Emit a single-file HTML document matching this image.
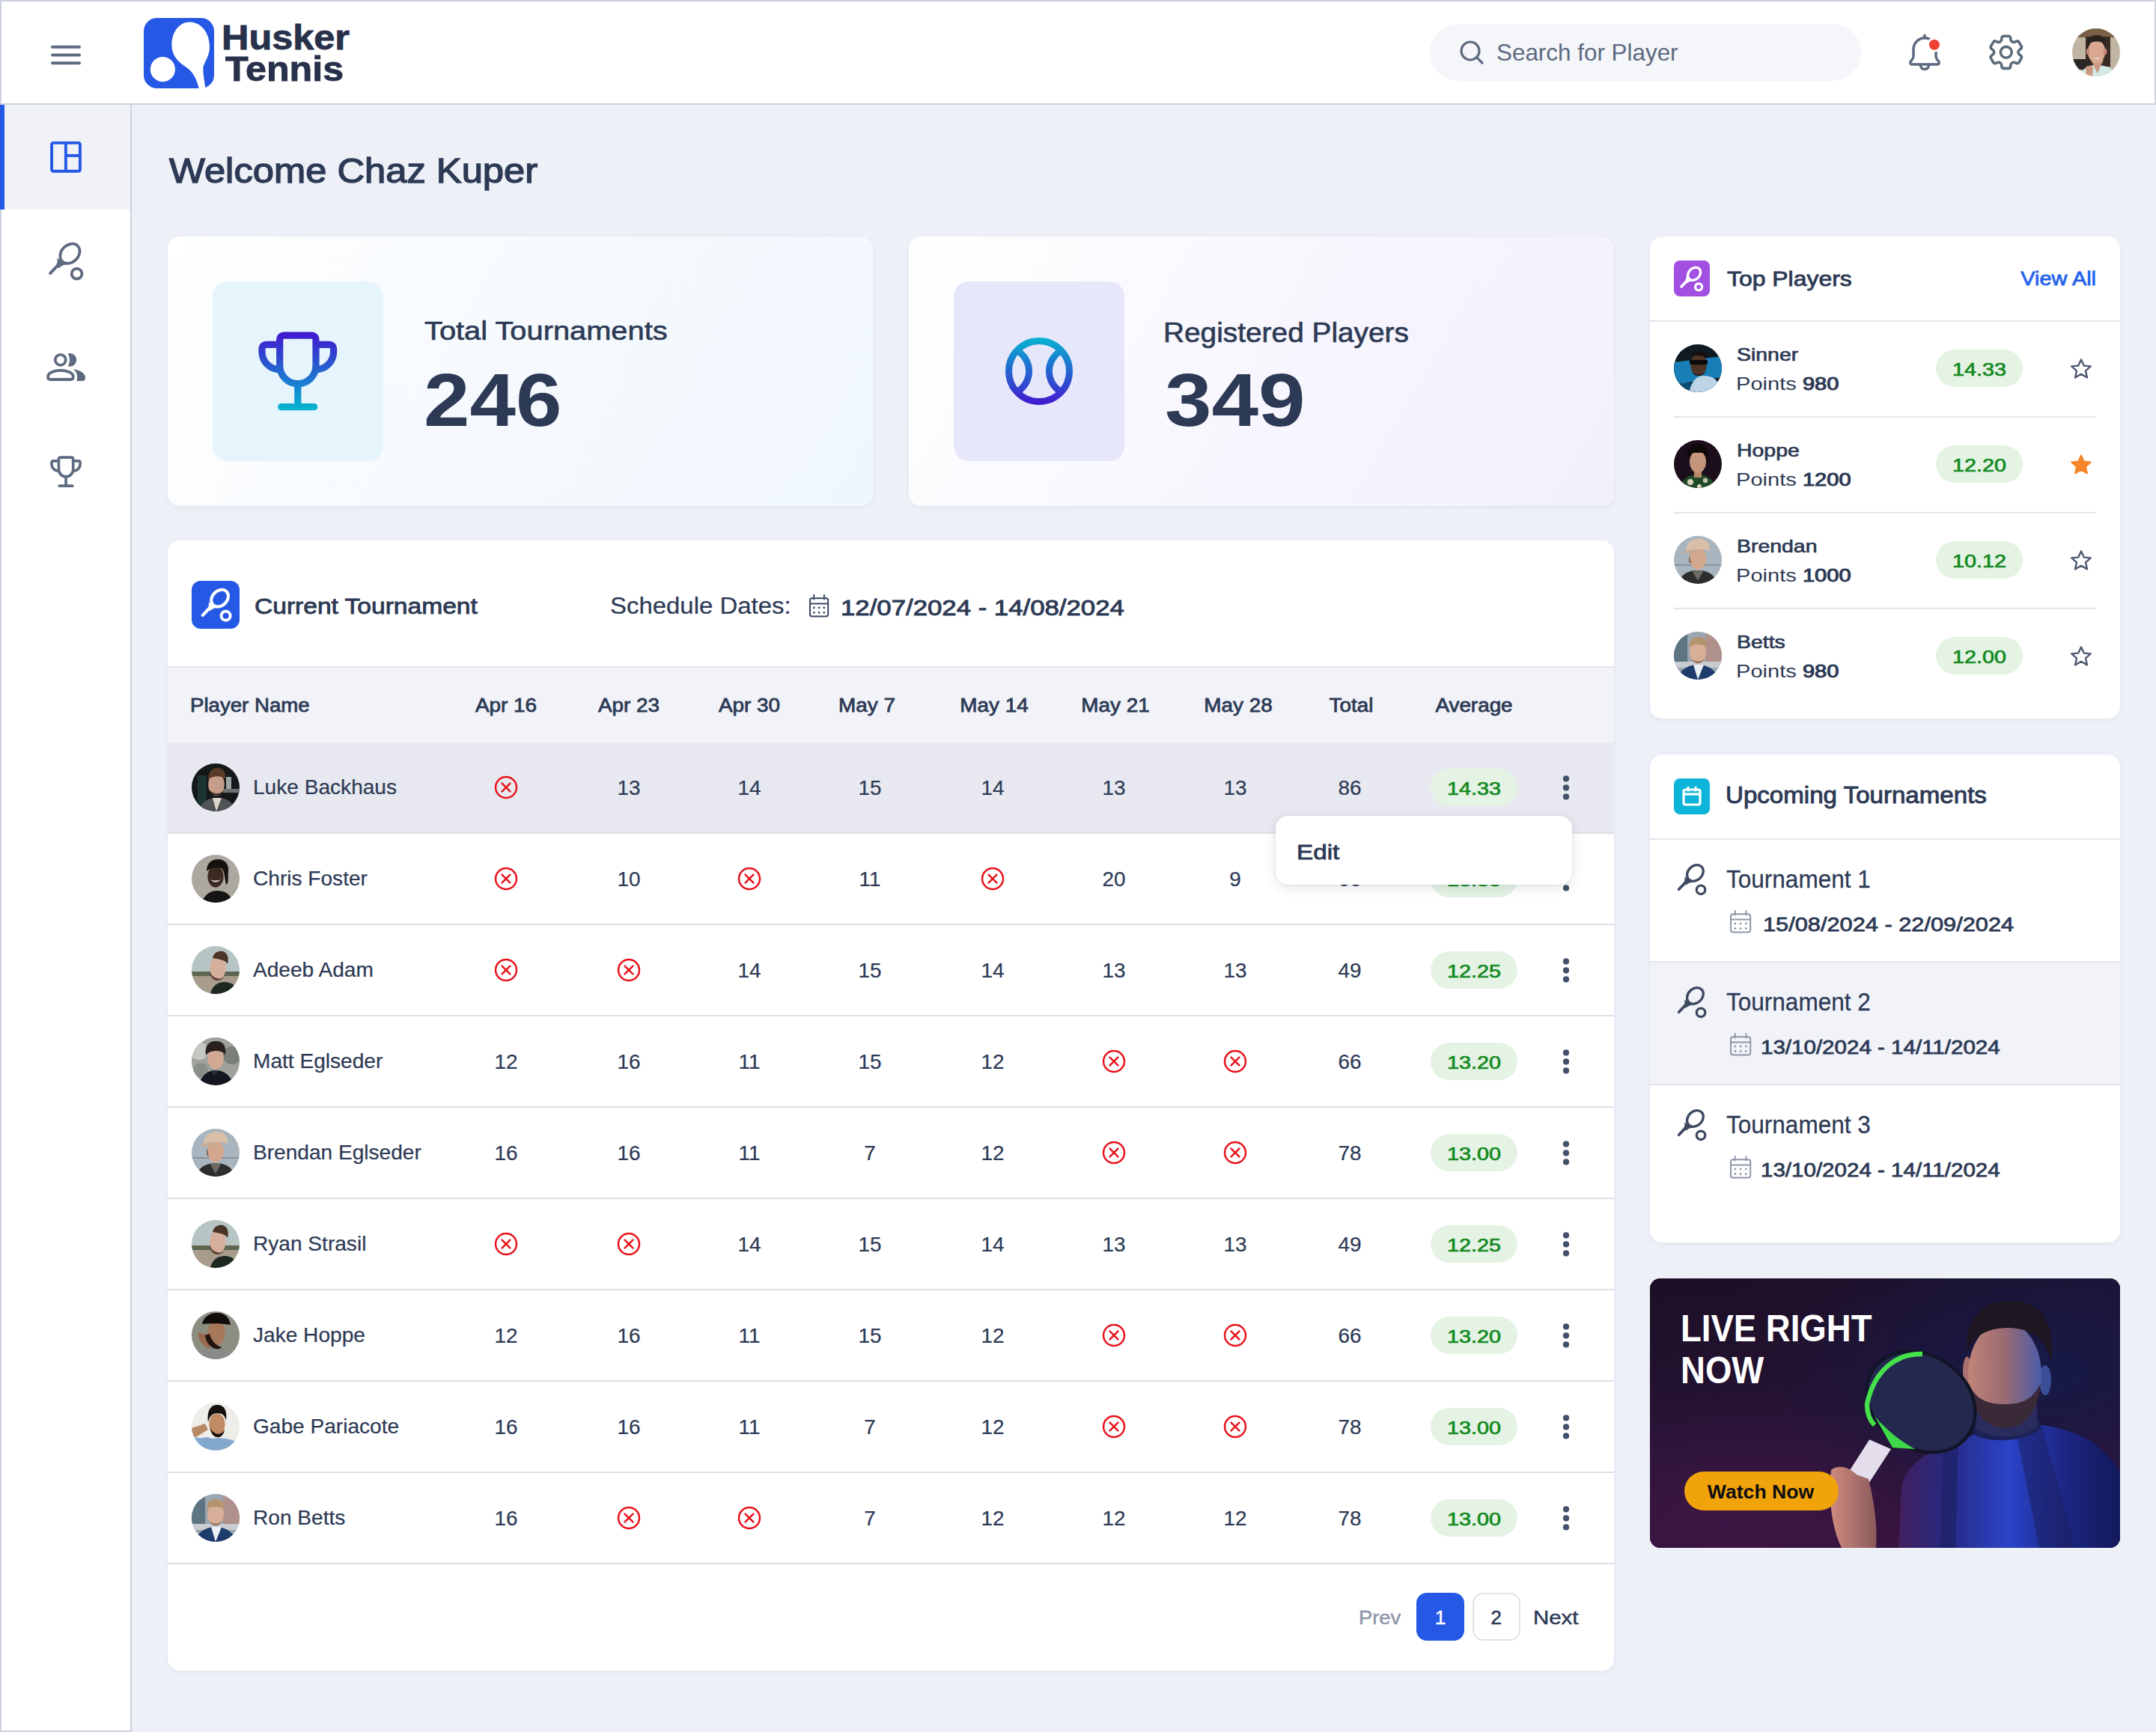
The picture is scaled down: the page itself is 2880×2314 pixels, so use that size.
<!DOCTYPE html><html><head><meta charset="utf-8"><style>
html,body{margin:0;padding:0;}
body{width:2880px;height:2314px;overflow:hidden;background:#EDF0F7;}
#app{zoom:2;position:relative;width:1440px;height:1157px;overflow:hidden;background:#EDF0F7;font-family:"Liberation Sans",sans-serif;}
.t{position:absolute;line-height:1;white-space:nowrap;}
svg{display:block;overflow:visible;}
</style></head><body><div id="app">
<div style="position:absolute;left:0px;top:0px;width:1440px;height:70px;box-sizing:border-box;background:#fff;border:1px solid #CAD1DF;"></div>
<div style="position:absolute;left:0px;top:70px;width:88px;height:1087px;box-sizing:border-box;background:#fff;border:1px solid #CAD1DF;border-top:none;"></div>
<div style="position:absolute;left:1px;top:70px;width:86px;height:70px;background:#F0F2F8;"></div>
<div style="position:absolute;left:0px;top:70px;width:3px;height:70px;background:#2558E5;"></div>
<svg style="position:absolute;left:33px;top:30px;" width="22" height="14" viewBox="0 0 22 14" fill="none"><g stroke="#5E6A80" stroke-width="2" stroke-linecap="round"><path d="M2,1.4H20"/><path d="M2,6.7H20"/><path d="M2,12.1H20"/></g></svg>
<svg style="position:absolute;left:96px;top:12px;" width="47" height="47" viewBox="0 0 47 47" fill="none"><rect width="47" height="47" rx="8.8" fill="#2558E5"/>
<path d="M30.5,2.7 C38.5,2.7 44,10 44,19.2 C44,25 41,28.5 39.8,32.5 C39.3,36 40.5,42 41.3,47 L36.8,47 C35.5,41 33,36 28.5,33 C22.5,29 18.7,25 18.7,18 C18.7,9 24,2.7 30.5,2.7 Z" fill="#fff"/>
<circle cx="12.7" cy="34.3" r="8.3" fill="#fff"/></svg>
<div class="t" style="left:148.12px;top:13.97px;font-size:22.831px;font-weight:700;color:#28314B;-webkit-text-stroke:0.43px #28314B;transform:scaleX(1.1041);transform-origin:0 0;">Husker</div>
<div class="t" style="left:150.68px;top:34.68px;font-size:23.354px;font-weight:700;color:#28314B;-webkit-text-stroke:0.44px #28314B;transform:scaleX(1.0761);transform-origin:0 0;">Tennis</div>
<div style="position:absolute;left:955px;top:16px;width:288px;height:38px;border-radius:19px;background:#F4F6FA;"></div>
<svg style="position:absolute;left:974px;top:26px;" width="18" height="18" viewBox="0 0 18 18" fill="none"><g stroke="#5E6A80" stroke-width="1.6" stroke-linecap="round"><circle cx="8" cy="8" r="6"/><path d="M12.4,12.4 L16,16"/></g></svg>
<div class="t" style="left:999.60px;top:27.65px;font-size:15.248px;font-weight:400;color:#5E6A80;transform:scaleX(1.0299);transform-origin:0 0;">Search for Player</div>
<svg style="position:absolute;left:1265px;top:15px;" width="40" height="40" viewBox="0 0 40 40" fill="none"><g transform="translate(-1265,-15)"><g stroke="#5E6A80" stroke-width="1.76" stroke-linecap="round" stroke-linejoin="round" fill="none">
<path d="M1277,42.97 H1294 C1295.2,42.97 1295.5,41.5 1294.6,40.6 L1294,40 C1293.3,39.3 1293,38.3 1293,37.3 V33 C1293,28.9 1289.6,25.4 1285.5,25.4 C1281.4,25.4 1278,28.9 1278,33 V37.3 C1278,38.3 1277.7,39.3 1277,40 L1276.4,40.6 C1275.5,41.5 1275.8,42.97 1277,42.97 Z"/>
<path d="M1282.6,43.6 C1283,45.4 1284.1,46.3 1285.5,46.3 C1286.9,46.3 1288,45.4 1288.4,43.6"/><path d="M1285.5,23.6 V25.4"/></g>
<circle cx="1291.96" cy="29.89" r="4.9" fill="#fff"/><circle cx="1291.96" cy="29.89" r="3.52" fill="#F04132"/></g></svg>
<svg style="position:absolute;left:1325.6px;top:20.53px;" width="28.8" height="28.8" viewBox="0 0 28.8 28.8" fill="none"><g transform="scale(1.2)" stroke="#5B6B78" stroke-width="1.5" fill="none" stroke-linejoin="round"><path d="M9.594 3.94c.09-.542.56-.94 1.11-.94h2.593c.55 0 1.02.398 1.11.94l.213 1.281c.063.374.313.686.645.87.074.04.147.083.22.127.325.196.72.257 1.075.124l1.217-.456a1.125 1.125 0 0 1 1.37.49l1.296 2.247a1.125 1.125 0 0 1-.26 1.431l-1.003.827c-.293.241-.438.613-.43.992a7.723 7.723 0 0 1 0 .255c-.008.378.137.75.43.991l1.004.827c.424.35.534.955.26 1.43l-1.298 2.247a1.125 1.125 0 0 1-1.369.491l-1.217-.456c-.355-.133-.75-.072-1.076.124a6.470 6.470 0 0 1-.22.128c-.331.183-.581.495-.644.869l-.213 1.281c-.09.543-.56.94-1.110.94h-2.594c-.55 0-1.019-.398-1.11-.94l-.213-1.281c-.062-.374-.312-.686-.644-.87a6.520 6.520 0 0 1-.22-.127c-.325-.196-.72-.257-1.076-.124l-1.217.456a1.125 1.125 0 0 1-1.369-.49l-1.297-2.247a1.125 1.125 0 0 1 .26-1.431l1.004-.827c.292-.24.437-.613.43-.991a6.932 6.932 0 0 1 0-.255c.007-.38-.138-.751-.43-.992l-1.004-.827a1.125 1.125 0 0 1-.26-1.430l1.297-2.247a1.125 1.125 0 0 1 1.37-.491l1.216.456c.356.133.751.072 1.076-.124.072-.044.146-.086.22-.128.332-.183.582-.495.644-.869l.214-1.280Z"/><circle cx="12" cy="12" r="3.1"/></g></svg>
<svg style="position:absolute;left:1384px;top:19px;" width="32" height="32" viewBox="0 0 32 32" fill="none"><defs><clipPath id="av1"><circle cx="16" cy="16" r="16"/></clipPath></defs><g clip-path="url(#av1)"><rect width="32" height="32" fill="#BFB5A2"/><rect x="0" y="0" width="32" height="6" fill="#7A6048"/><rect x="9" y="5.5" width="16.5" height="20" fill="#3A2A22"/><path d="M0,20.5 L12.5,20.5 L12.5,27.5 L0,27.5Z" fill="#2A2624"/><path d="M4,34 C6,27 10,24.5 16,24.5 C22,24.5 27,26 31,32 L31,34Z" fill="#D4E8E6"/><path d="M12.5,21 L16.8,30 L21,21Z" fill="#C89A84"/><ellipse cx="16.3" cy="15.5" rx="5.8" ry="7.8" fill="#D8A890"/><ellipse cx="10.6" cy="15.5" rx="1.2" ry="2" fill="#C88A78"/><ellipse cx="22" cy="15.5" rx="1.2" ry="2" fill="#C88A78"/><path d="M10,13 C9.5,6 13,4.5 16.5,4.5 C20.5,4.5 23,6.5 22.5,13 C21.5,9.5 19,8.8 16.3,8.8 C13.5,8.8 11,9.5 10,13Z" fill="#2A2420"/><path d="M13.5,19.5 Q16.3,21.5 19,19.5 Q16.3,20.3 13.5,19.5Z" fill="#F0ECE6"/><path d="M9,26 C10,24.5 13,24.5 14,26.5 L13.5,32 L9.5,32Z" fill="#C8987E"/></g></svg>
<svg style="position:absolute;left:32px;top:93px;" width="24" height="24" viewBox="0 0 24 24" fill="none"><g stroke="#2558E5" stroke-width="1.96" fill="none"><rect x="2.53" y="2.45" width="18.94" height="18.94" rx="1.1"/><path d="M11.94,2.45 V21.39"/><path d="M11.94,10.94 H21.47"/></g></svg>
<svg style="position:absolute;left:32.150000000000006px;top:159.54px;" width="25.0" height="29.0" viewBox="0 0 25.0 29.0" fill="none"><g stroke="#5E6A80" fill="none" stroke-linecap="round" transform="scale(1.0)"><ellipse cx="14.7" cy="9.9" rx="7.3" ry="5.7" transform="rotate(-45 14.7 9.9)" stroke-width="1.85"/><path d="M6.9,17.4 L1.55,23.05" stroke-width="2.0"/><circle cx="19.3" cy="23.4" r="3.45" stroke-width="1.9"/><path d="M6.1,12.9 C6.5,15.3 6.3,16.9 4.9,18.5 L7.4,19.6 C9.2,17.9 10.8,17.4 12.9,17.3 Z" fill="#5E6A80" stroke="none"/></g></svg>
<svg style="position:absolute;left:30px;top:234px;" width="28" height="22" viewBox="0 0 28 22" fill="none"><g transform="translate(-30,-234)"><circle cx="40.4" cy="240.4" r="3.52" fill="none" stroke="#5E6A80" stroke-width="1.85"/>
<path d="M45.44,235.97 H46.85 A4.45,4.45 0 0 1 46.85,244.86 H45.44 Q47.6,240.4 45.44,235.97 Z" fill="#5E6A80"/>
<path d="M33.6,253.5 H47.3 Q48.85,253.5 48.85,252 V251.5 C48.85,249 44.5,247.45 40.45,247.45 C36.4,247.45 32.05,249 32.05,251.5 V252 Q32.05,253.5 33.6,253.5 Z" fill="none" stroke="#5E6A80" stroke-width="1.9"/>
<path d="M48.9,246.6 C53.5,247.2 57,249.3 57,252.2 Q57,254.45 54.8,254.45 H51.3 C52,251.2 51.5,248.5 48.9,246.6 Z" fill="#5E6A80"/></g></svg>
<svg style="position:absolute;left:32.47px;top:303.38px;" width="24" height="24" viewBox="0 0 24 24" fill="none"><g transform="scale(0.399)" stroke="#5E6A80" stroke-width="4.6" fill="none" stroke-linejoin="round"><path d="M16.85,25.6 V8.3 Q16.85,5.1 20,5.1 H37.8 Q41,5.1 41,8.3 V25.6 A12.08,12.08 0 0 1 16.85,25.6 Z"/>
<path d="M16.85,11.2 H8.2 Q5,11.2 5,14.4 V16 A11.85,11.9 0 0 0 16.85,27.9"/>
<path d="M41,11.2 H49.6 Q52.8,11.2 52.8,14.4 V16 A11.85,11.9 0 0 1 41,27.9"/>
<path d="M28.9,37.6 V52.85"/><path d="M17.85,52.85 H39.85" stroke-linecap="round"/></g></svg>
<div class="t" style="left:112.94px;top:103.09px;font-size:22.981px;font-weight:400;color:#2D3A55;-webkit-text-stroke:0.69px #2D3A55;transform:scaleX(1.1031);transform-origin:0 0;">Welcome Chaz Kuper</div>
<div style="position:absolute;left:112px;top:158px;width:471px;height:180px;border-radius:8px;background:linear-gradient(120deg,#FFFFFF 0%,#F6FAFE 45%,#EFF6FD 100%);box-shadow:0 1px 3px rgba(40,50,90,0.06);"></div>
<div style="position:absolute;left:607px;top:158px;width:471px;height:180px;border-radius:8px;background:linear-gradient(120deg,#FFFFFF 0%,#F8F7FE 45%,#F2F0FD 100%);box-shadow:0 1px 3px rgba(40,50,90,0.06);"></div>
<div style="position:absolute;left:142px;top:188px;width:114px;height:120px;border-radius:10px;background:#E6F4FC;"></div>
<div style="position:absolute;left:637px;top:188px;width:114px;height:120px;border-radius:10px;background:#E7E7FB;"></div>
<svg style="position:absolute;left:170px;top:219px;" width="58" height="58" viewBox="0 0 58 58" fill="none"><defs><linearGradient id="gt" x1="0" y1="3" x2="0" y2="55" gradientUnits="userSpaceOnUse"><stop offset="0" stop-color="#4316D0"/><stop offset="1" stop-color="#05B5D0"/></linearGradient></defs>
<g stroke="url(#gt)" stroke-width="4.6" fill="none" stroke-linejoin="round"><path d="M16.85,25.6 V8.3 Q16.85,5.1 20,5.1 H37.8 Q41,5.1 41,8.3 V25.6 A12.08,12.08 0 0 1 16.85,25.6 Z"/>
<path d="M16.85,11.2 H8.2 Q5,11.2 5,14.4 V16 A11.85,11.9 0 0 0 16.85,27.9"/>
<path d="M41,11.2 H49.6 Q52.8,11.2 52.8,14.4 V16 A11.85,11.9 0 0 1 41,27.9"/>
<path d="M28.9,37.6 V52.85"/><path d="M17.85,52.85 H39.85" stroke-linecap="round"/></g></svg>
<svg style="position:absolute;left:668.9px;top:222.9px;" width="50" height="50" viewBox="0 0 50 50" fill="none"><defs><linearGradient id="gb" x1="0" y1="-23" x2="0" y2="23" gradientUnits="userSpaceOnUse"><stop offset="0" stop-color="#05B5D0"/><stop offset="1" stop-color="#4316D0"/></linearGradient></defs>
<g transform="translate(25,25)" stroke="url(#gb)" stroke-width="4.5" fill="none">
<circle r="20.25"/><path d="M-14.81,-13.8 A15.8,15.8 0 0 1 -14.81,13.8"/><path d="M14.81,-13.8 A15.8,15.8 0 0 0 14.81,13.8"/></g></svg>
<div class="t" style="left:283.44px;top:212.71px;font-size:17.767px;font-weight:400;color:#2D3A55;-webkit-text-stroke:0.32px #2D3A55;transform:scaleX(1.1211);transform-origin:0 0;">Total Tournaments</div>
<div class="t" style="left:282.88px;top:242.48px;font-size:49.865px;font-weight:700;color:#2D3A55;transform:scaleX(1.108);transform-origin:0 0;">246</div>
<div class="t" style="left:776.86px;top:212.81px;font-size:18.525px;font-weight:400;color:#2D3A55;-webkit-text-stroke:0.33px #2D3A55;transform:scaleX(1.0478);transform-origin:0 0;">Registered Players</div>
<div class="t" style="left:777.98px;top:242.48px;font-size:49.865px;font-weight:700;color:#2D3A55;transform:scaleX(1.128);transform-origin:0 0;">349</div>
<div style="position:absolute;left:112px;top:361px;width:966px;height:755px;border-radius:8px;background:#fff;box-shadow:0 1px 3px rgba(40,50,90,0.06);overflow:hidden;"></div>
<div style="position:absolute;left:128px;top:388px;width:32px;height:32px;border-radius:6px;background:#2558E5;"></div>
<svg style="position:absolute;left:133.82150000000001px;top:390.7598px;" width="21.75" height="25.23" viewBox="0 0 21.75 25.23" fill="none"><g stroke="#fff" fill="none" stroke-linecap="round" transform="scale(0.87)"><ellipse cx="14.7" cy="9.9" rx="7.3" ry="5.7" transform="rotate(-45 14.7 9.9)" stroke-width="2.3"/><path d="M6.9,17.4 L1.55,23.05" stroke-width="2.4"/><circle cx="19.3" cy="23.4" r="3.45" stroke-width="2.3"/><path d="M6.1,12.9 C6.5,15.3 6.3,16.9 4.9,18.5 L7.4,19.6 C9.2,17.9 10.8,17.4 12.9,17.3 Z" fill="#fff" stroke="none"/></g></svg>
<div class="t" style="left:169.92px;top:397.73px;font-size:14.784px;font-weight:400;color:#2D3A55;-webkit-text-stroke:0.44px #2D3A55;transform:scaleX(1.1356);transform-origin:0 0;">Current Tournament</div>
<div class="t" style="left:407.50px;top:397.48px;font-size:15.434px;font-weight:400;color:#2D3A55;-webkit-text-stroke:0.12px #2D3A55;transform:scaleX(1.0667);transform-origin:0 0;">Schedule Dates:</div>
<svg style="position:absolute;left:540.4px;top:397.1px;" width="13.1" height="15.3" viewBox="0 0 13.1 15.3" fill="none"><g stroke="#3A4762" stroke-width="1.0" fill="none" stroke-linecap="round"><rect x="0.5" y="2.6" width="12.1" height="12.200000000000001" rx="1.4"/><path d="M0.5,6.2 H12.6"/><path d="M3.14,0.5 V3.2"/><path d="M9.96,0.5 V3.2"/></g><g fill="#3A4762"><circle cx="3.21" cy="8.97" r=".7"/><circle cx="3.21" cy="12.2" r=".7"/><circle cx="6.55" cy="8.97" r=".7"/><circle cx="6.55" cy="12.2" r=".7"/><circle cx="9.89" cy="8.97" r=".7"/><circle cx="9.89" cy="12.2" r=".7"/></g></svg>
<div class="t" style="left:561.38px;top:397.93px;font-size:15.196px;font-weight:400;color:#2D3A55;-webkit-text-stroke:0.46px #2D3A55;transform:scaleX(1.1444);transform-origin:0 0;">12/07/2024 - 14/08/2024</div>
<div style="position:absolute;left:112px;top:445px;width:966px;height:1px;background:#E2E5EC;"></div>
<div style="position:absolute;left:112px;top:446px;width:966px;height:50px;background:#F1F3F9;"></div>
<div class="t" style="left:126.90px;top:465.14px;font-size:12.527px;font-weight:400;color:#2D3A55;-webkit-text-stroke:0.38px #2D3A55;transform:scaleX(1.1031);transform-origin:0 0;">Player Name</div>
<div class="t" style="left:188.00px;width:300px;text-align:center;top:465.14px;font-size:12.527px;font-weight:400;color:#2D3A55;-webkit-text-stroke:0.38px #2D3A55;transform:scaleX(1.1119);transform-origin:50% 0;">Apr 16</div>
<div class="t" style="left:270.00px;width:300px;text-align:center;top:465.14px;font-size:12.527px;font-weight:400;color:#2D3A55;-webkit-text-stroke:0.38px #2D3A55;transform:scaleX(1.1119);transform-origin:50% 0;">Apr 23</div>
<div class="t" style="left:350.40px;width:300px;text-align:center;top:465.14px;font-size:12.527px;font-weight:400;color:#2D3A55;-webkit-text-stroke:0.38px #2D3A55;transform:scaleX(1.1119);transform-origin:50% 0;">Apr 30</div>
<div class="t" style="left:429.00px;width:300px;text-align:center;top:465.14px;font-size:12.527px;font-weight:400;color:#2D3A55;-webkit-text-stroke:0.38px #2D3A55;transform:scaleX(1.1119);transform-origin:50% 0;">May 7</div>
<div class="t" style="left:514.00px;width:300px;text-align:center;top:465.14px;font-size:12.527px;font-weight:400;color:#2D3A55;-webkit-text-stroke:0.38px #2D3A55;transform:scaleX(1.1119);transform-origin:50% 0;">May 14</div>
<div class="t" style="left:595.00px;width:300px;text-align:center;top:465.14px;font-size:12.527px;font-weight:400;color:#2D3A55;-webkit-text-stroke:0.38px #2D3A55;transform:scaleX(1.1119);transform-origin:50% 0;">May 21</div>
<div class="t" style="left:677.00px;width:300px;text-align:center;top:465.14px;font-size:12.527px;font-weight:400;color:#2D3A55;-webkit-text-stroke:0.38px #2D3A55;transform:scaleX(1.1119);transform-origin:50% 0;">May 28</div>
<div class="t" style="left:752.50px;width:300px;text-align:center;top:465.14px;font-size:12.527px;font-weight:400;color:#2D3A55;-webkit-text-stroke:0.38px #2D3A55;transform:scaleX(1.1119);transform-origin:50% 0;">Total</div>
<div class="t" style="left:834.50px;width:300px;text-align:center;top:465.14px;font-size:12.527px;font-weight:400;color:#2D3A55;-webkit-text-stroke:0.38px #2D3A55;transform:scaleX(1.1119);transform-origin:50% 0;">Average</div>
<div style="position:absolute;left:112px;top:496px;width:966px;height:60px;background:#E8E9F0;"></div>
<div style="position:absolute;left:112px;top:556px;width:966px;height:1px;background:#DCDFE5;"></div>
<svg style="position:absolute;left:128px;top:510px;" width="32" height="32" viewBox="0 0 32 32" fill="none"><defs><clipPath id="av2"><circle cx="16" cy="16" r="16"/></clipPath></defs><g clip-path="url(#av2)"><rect width="32" height="32" fill="#141818"/><rect x="4" y="8" width="6" height="22" fill="#1E3432"/><rect x="23" y="9" width="3.5" height="8" fill="#9CA4A4"/><rect x="20" y="17" width="12" height="2.5" fill="#6A7474"/><path d="M4,34 C6,26 10,23 17,23 C24,23 28,26 30,34Z" fill="#505456"/><path d="M14,23 L16.5,32 L20,23Z" fill="#DCD4CA"/><ellipse cx="16.5" cy="14" rx="5.4" ry="7.6" fill="#C69C8A"/><path d="M11,11 C11,5 14,3 17,3 C21,3 23,5.5 22.5,10.5 C20.5,8 13,8 11,11Z" fill="#5A3A28"/><path d="M11.5,17 C12,22.5 20.5,23 21.5,17.5 C20,21 13.5,21 11.5,17Z" fill="#3A2A22"/></g></svg>
<div class="t" style="left:169.12px;top:519.54px;font-size:13.419px;font-weight:400;color:#2D3A55;-webkit-text-stroke:0.11px #2D3A55;transform:scaleX(1.0468);transform-origin:0 0;">Luke Backhaus</div>
<svg style="position:absolute;left:330px;top:518px;" width="16" height="16" viewBox="0 0 16 16" fill="none"><g stroke="#E8141C" stroke-width="1.25" stroke-linecap="round" fill="none"><circle cx="8" cy="8" r="7"/><path d="M5.3,5.3 L10.7,10.7 M10.7,5.3 L5.3,10.7"/></g></svg>
<div class="t" style="left:270.00px;width:300px;text-align:center;top:519.19px;font-size:14.122px;font-weight:400;color:#2D3A55;-webkit-text-stroke:0.11px #2D3A55;transform:scaleX(0.9884);transform-origin:50% 0;">13</div>
<div class="t" style="left:350.40px;width:300px;text-align:center;top:519.19px;font-size:14.122px;font-weight:400;color:#2D3A55;-webkit-text-stroke:0.11px #2D3A55;transform:scaleX(0.9884);transform-origin:50% 0;">14</div>
<div class="t" style="left:431.00px;width:300px;text-align:center;top:519.19px;font-size:14.122px;font-weight:400;color:#2D3A55;-webkit-text-stroke:0.11px #2D3A55;transform:scaleX(0.9884);transform-origin:50% 0;">15</div>
<div class="t" style="left:513.00px;width:300px;text-align:center;top:519.19px;font-size:14.122px;font-weight:400;color:#2D3A55;-webkit-text-stroke:0.11px #2D3A55;transform:scaleX(0.9884);transform-origin:50% 0;">14</div>
<div class="t" style="left:594.00px;width:300px;text-align:center;top:519.19px;font-size:14.122px;font-weight:400;color:#2D3A55;-webkit-text-stroke:0.11px #2D3A55;transform:scaleX(0.9884);transform-origin:50% 0;">13</div>
<div class="t" style="left:675.00px;width:300px;text-align:center;top:519.19px;font-size:14.122px;font-weight:400;color:#2D3A55;-webkit-text-stroke:0.11px #2D3A55;transform:scaleX(0.9884);transform-origin:50% 0;">13</div>
<div class="t" style="left:751.60px;width:300px;text-align:center;top:519.19px;font-size:14.122px;font-weight:400;color:#2D3A55;-webkit-text-stroke:0.11px #2D3A55;transform:scaleX(0.9884);transform-origin:50% 0;">86</div>
<div style="position:absolute;left:955.5px;top:513.5px;width:58px;height:25px;border-radius:12.5px;background:#E4F3E4;"></div>
<div class="t" style="left:834.50px;width:300px;text-align:center;top:521.14px;font-size:12.123px;font-weight:400;color:#138A1F;-webkit-text-stroke:0.36px #138A1F;transform:scaleX(1.1851);transform-origin:50% 0;">14.33</div>
<svg style="position:absolute;left:1042px;top:517px;" width="8" height="18" viewBox="0 0 8 18" fill="none"><g fill="#42506A"><circle cx="4" cy="3.2" r="2.05"/><circle cx="4" cy="9.2" r="2.05"/><circle cx="4" cy="15.2" r="2.05"/></g></svg>
<div style="position:absolute;left:112px;top:617px;width:966px;height:1px;background:#DCDFE5;"></div>
<svg style="position:absolute;left:128px;top:571px;" width="32" height="32" viewBox="0 0 32 32" fill="none"><defs><clipPath id="av3"><circle cx="16" cy="16" r="16"/></clipPath></defs><g clip-path="url(#av3)"><rect width="32" height="32" fill="#ACA79F"/><path d="M6,34 C8,27 12,24 17,24 C23,24 27,27 28,34Z" fill="#151515"/><ellipse cx="16" cy="14.5" rx="5.3" ry="7.3" fill="#3C2A22"/><path d="M12.5,16.5 Q16,20 19.5,16.5 Q16,18 12.5,16.5Z" fill="#EEE8E0"/><path d="M10,11 C10,5 14,3 17.5,3 C22,3 25,6 24.5,11 C24,16 25,19 23,20 C22,15 22,11 20,9 C16,8 12,9 10,11Z" fill="#16100E"/></g></svg>
<div class="t" style="left:169.12px;top:580.54px;font-size:13.419px;font-weight:400;color:#2D3A55;-webkit-text-stroke:0.11px #2D3A55;transform:scaleX(1.0468);transform-origin:0 0;">Chris Foster</div>
<svg style="position:absolute;left:330px;top:579px;" width="16" height="16" viewBox="0 0 16 16" fill="none"><g stroke="#E8141C" stroke-width="1.25" stroke-linecap="round" fill="none"><circle cx="8" cy="8" r="7"/><path d="M5.3,5.3 L10.7,10.7 M10.7,5.3 L5.3,10.7"/></g></svg>
<div class="t" style="left:270.00px;width:300px;text-align:center;top:580.19px;font-size:14.122px;font-weight:400;color:#2D3A55;-webkit-text-stroke:0.11px #2D3A55;transform:scaleX(0.9884);transform-origin:50% 0;">10</div>
<svg style="position:absolute;left:492.4px;top:579px;" width="16" height="16" viewBox="0 0 16 16" fill="none"><g stroke="#E8141C" stroke-width="1.25" stroke-linecap="round" fill="none"><circle cx="8" cy="8" r="7"/><path d="M5.3,5.3 L10.7,10.7 M10.7,5.3 L5.3,10.7"/></g></svg>
<div class="t" style="left:431.00px;width:300px;text-align:center;top:580.19px;font-size:14.122px;font-weight:400;color:#2D3A55;-webkit-text-stroke:0.11px #2D3A55;transform:scaleX(0.9884);transform-origin:50% 0;">11</div>
<svg style="position:absolute;left:655px;top:579px;" width="16" height="16" viewBox="0 0 16 16" fill="none"><g stroke="#E8141C" stroke-width="1.25" stroke-linecap="round" fill="none"><circle cx="8" cy="8" r="7"/><path d="M5.3,5.3 L10.7,10.7 M10.7,5.3 L5.3,10.7"/></g></svg>
<div class="t" style="left:594.00px;width:300px;text-align:center;top:580.19px;font-size:14.122px;font-weight:400;color:#2D3A55;-webkit-text-stroke:0.11px #2D3A55;transform:scaleX(0.9884);transform-origin:50% 0;">20</div>
<div class="t" style="left:675.00px;width:300px;text-align:center;top:580.19px;font-size:14.122px;font-weight:400;color:#2D3A55;-webkit-text-stroke:0.11px #2D3A55;transform:scaleX(0.9884);transform-origin:50% 0;">9</div>
<div class="t" style="left:751.60px;width:300px;text-align:center;top:580.19px;font-size:14.122px;font-weight:400;color:#2D3A55;-webkit-text-stroke:0.11px #2D3A55;transform:scaleX(0.9884);transform-origin:50% 0;">66</div>
<div style="position:absolute;left:955.5px;top:574.5px;width:58px;height:25px;border-radius:12.5px;background:#E4F3E4;"></div>
<div class="t" style="left:834.50px;width:300px;text-align:center;top:582.14px;font-size:12.123px;font-weight:400;color:#138A1F;-webkit-text-stroke:0.36px #138A1F;transform:scaleX(1.1851);transform-origin:50% 0;">13.33</div>
<svg style="position:absolute;left:1042px;top:578px;" width="8" height="18" viewBox="0 0 8 18" fill="none"><g fill="#42506A"><circle cx="4" cy="3.2" r="2.05"/><circle cx="4" cy="9.2" r="2.05"/><circle cx="4" cy="15.2" r="2.05"/></g></svg>
<div style="position:absolute;left:112px;top:678px;width:966px;height:1px;background:#DCDFE5;"></div>
<svg style="position:absolute;left:128px;top:632px;" width="32" height="32" viewBox="0 0 32 32" fill="none"><defs><clipPath id="av4"><circle cx="16" cy="16" r="16"/></clipPath></defs><g clip-path="url(#av4)"><rect width="32" height="32" fill="#B6C4C4"/><rect x="0" y="17" width="32" height="3" fill="#5C6650"/><rect x="0" y="20" width="32" height="12" fill="#A89C8C"/><path d="M12,34 C13,27 17,24 22,24 C27,24 31,27 32,34Z" fill="#1C2820"/><ellipse cx="17.5" cy="14.5" rx="5.3" ry="7.8" fill="#D6AE9C"/><path d="M14,8 C15,4 18,3 21,3.5 C24,4.5 25,8 24,12 C23,9.5 18,8.5 14,8Z" fill="#4A3426"/><path d="M12,17 C12.5,23.5 19,25 22,20 C20,23 14,22 12,17Z" fill="#5A4030"/></g></svg>
<div class="t" style="left:169.12px;top:641.54px;font-size:13.419px;font-weight:400;color:#2D3A55;-webkit-text-stroke:0.11px #2D3A55;transform:scaleX(1.0468);transform-origin:0 0;">Adeeb Adam</div>
<svg style="position:absolute;left:330px;top:640px;" width="16" height="16" viewBox="0 0 16 16" fill="none"><g stroke="#E8141C" stroke-width="1.25" stroke-linecap="round" fill="none"><circle cx="8" cy="8" r="7"/><path d="M5.3,5.3 L10.7,10.7 M10.7,5.3 L5.3,10.7"/></g></svg>
<svg style="position:absolute;left:412px;top:640px;" width="16" height="16" viewBox="0 0 16 16" fill="none"><g stroke="#E8141C" stroke-width="1.25" stroke-linecap="round" fill="none"><circle cx="8" cy="8" r="7"/><path d="M5.3,5.3 L10.7,10.7 M10.7,5.3 L5.3,10.7"/></g></svg>
<div class="t" style="left:350.40px;width:300px;text-align:center;top:641.19px;font-size:14.122px;font-weight:400;color:#2D3A55;-webkit-text-stroke:0.11px #2D3A55;transform:scaleX(0.9884);transform-origin:50% 0;">14</div>
<div class="t" style="left:431.00px;width:300px;text-align:center;top:641.19px;font-size:14.122px;font-weight:400;color:#2D3A55;-webkit-text-stroke:0.11px #2D3A55;transform:scaleX(0.9884);transform-origin:50% 0;">15</div>
<div class="t" style="left:513.00px;width:300px;text-align:center;top:641.19px;font-size:14.122px;font-weight:400;color:#2D3A55;-webkit-text-stroke:0.11px #2D3A55;transform:scaleX(0.9884);transform-origin:50% 0;">14</div>
<div class="t" style="left:594.00px;width:300px;text-align:center;top:641.19px;font-size:14.122px;font-weight:400;color:#2D3A55;-webkit-text-stroke:0.11px #2D3A55;transform:scaleX(0.9884);transform-origin:50% 0;">13</div>
<div class="t" style="left:675.00px;width:300px;text-align:center;top:641.19px;font-size:14.122px;font-weight:400;color:#2D3A55;-webkit-text-stroke:0.11px #2D3A55;transform:scaleX(0.9884);transform-origin:50% 0;">13</div>
<div class="t" style="left:751.60px;width:300px;text-align:center;top:641.19px;font-size:14.122px;font-weight:400;color:#2D3A55;-webkit-text-stroke:0.11px #2D3A55;transform:scaleX(0.9884);transform-origin:50% 0;">49</div>
<div style="position:absolute;left:955.5px;top:635.5px;width:58px;height:25px;border-radius:12.5px;background:#E4F3E4;"></div>
<div class="t" style="left:834.50px;width:300px;text-align:center;top:643.14px;font-size:12.123px;font-weight:400;color:#138A1F;-webkit-text-stroke:0.36px #138A1F;transform:scaleX(1.1851);transform-origin:50% 0;">12.25</div>
<svg style="position:absolute;left:1042px;top:639px;" width="8" height="18" viewBox="0 0 8 18" fill="none"><g fill="#42506A"><circle cx="4" cy="3.2" r="2.05"/><circle cx="4" cy="9.2" r="2.05"/><circle cx="4" cy="15.2" r="2.05"/></g></svg>
<div style="position:absolute;left:112px;top:739px;width:966px;height:1px;background:#DCDFE5;"></div>
<svg style="position:absolute;left:128px;top:693px;" width="32" height="32" viewBox="0 0 32 32" fill="none"><defs><clipPath id="av5"><circle cx="16" cy="16" r="16"/></clipPath></defs><g clip-path="url(#av5)"><rect width="32" height="32" fill="#9EA29A"/><circle cx="5" cy="9" r="6" fill="#C4C8C0"/><circle cx="27" cy="12" r="6" fill="#7A8078"/><circle cx="6" cy="22" r="5" fill="#8A9088"/><path d="M4,34 C6,26 10,22 16,22 C22,22 26,25 29,34Z" fill="#141620"/><path d="M13,22 L15,26 L18,22Z" fill="#2A2E3A"/><ellipse cx="16" cy="14" rx="5.4" ry="7.2" fill="#D2AA94"/><path d="M9.5,12 C8.5,5 12,2.5 16,2.5 C20.5,2.5 23.5,5 22.5,12 C21,8 12,8 9.5,12Z" fill="#2A201E"/></g></svg>
<div class="t" style="left:169.12px;top:702.54px;font-size:13.419px;font-weight:400;color:#2D3A55;-webkit-text-stroke:0.11px #2D3A55;transform:scaleX(1.0468);transform-origin:0 0;">Matt Eglseder</div>
<div class="t" style="left:188.00px;width:300px;text-align:center;top:702.19px;font-size:14.122px;font-weight:400;color:#2D3A55;-webkit-text-stroke:0.11px #2D3A55;transform:scaleX(0.9884);transform-origin:50% 0;">12</div>
<div class="t" style="left:270.00px;width:300px;text-align:center;top:702.19px;font-size:14.122px;font-weight:400;color:#2D3A55;-webkit-text-stroke:0.11px #2D3A55;transform:scaleX(0.9884);transform-origin:50% 0;">16</div>
<div class="t" style="left:350.40px;width:300px;text-align:center;top:702.19px;font-size:14.122px;font-weight:400;color:#2D3A55;-webkit-text-stroke:0.11px #2D3A55;transform:scaleX(0.9884);transform-origin:50% 0;">11</div>
<div class="t" style="left:431.00px;width:300px;text-align:center;top:702.19px;font-size:14.122px;font-weight:400;color:#2D3A55;-webkit-text-stroke:0.11px #2D3A55;transform:scaleX(0.9884);transform-origin:50% 0;">15</div>
<div class="t" style="left:513.00px;width:300px;text-align:center;top:702.19px;font-size:14.122px;font-weight:400;color:#2D3A55;-webkit-text-stroke:0.11px #2D3A55;transform:scaleX(0.9884);transform-origin:50% 0;">12</div>
<svg style="position:absolute;left:736px;top:701px;" width="16" height="16" viewBox="0 0 16 16" fill="none"><g stroke="#E8141C" stroke-width="1.25" stroke-linecap="round" fill="none"><circle cx="8" cy="8" r="7"/><path d="M5.3,5.3 L10.7,10.7 M10.7,5.3 L5.3,10.7"/></g></svg>
<svg style="position:absolute;left:817px;top:701px;" width="16" height="16" viewBox="0 0 16 16" fill="none"><g stroke="#E8141C" stroke-width="1.25" stroke-linecap="round" fill="none"><circle cx="8" cy="8" r="7"/><path d="M5.3,5.3 L10.7,10.7 M10.7,5.3 L5.3,10.7"/></g></svg>
<div class="t" style="left:751.60px;width:300px;text-align:center;top:702.19px;font-size:14.122px;font-weight:400;color:#2D3A55;-webkit-text-stroke:0.11px #2D3A55;transform:scaleX(0.9884);transform-origin:50% 0;">66</div>
<div style="position:absolute;left:955.5px;top:696.5px;width:58px;height:25px;border-radius:12.5px;background:#E4F3E4;"></div>
<div class="t" style="left:834.50px;width:300px;text-align:center;top:704.14px;font-size:12.123px;font-weight:400;color:#138A1F;-webkit-text-stroke:0.36px #138A1F;transform:scaleX(1.1851);transform-origin:50% 0;">13.20</div>
<svg style="position:absolute;left:1042px;top:700px;" width="8" height="18" viewBox="0 0 8 18" fill="none"><g fill="#42506A"><circle cx="4" cy="3.2" r="2.05"/><circle cx="4" cy="9.2" r="2.05"/><circle cx="4" cy="15.2" r="2.05"/></g></svg>
<div style="position:absolute;left:112px;top:800px;width:966px;height:1px;background:#DCDFE5;"></div>
<svg style="position:absolute;left:128px;top:754px;" width="32" height="32" viewBox="0 0 32 32" fill="none"><defs><clipPath id="av6"><circle cx="16" cy="16" r="16"/></clipPath></defs><g clip-path="url(#av6)"><rect width="32" height="32" fill="#A9B5BE"/><rect x="0" y="19" width="32" height="1" fill="#8A9298"/><path d="M2,34 C4,26 9,23 16,23 C23,23 28,26 30,34Z" fill="#2C2E2E"/><path d="M12,23 L16,30 L20,23Z" fill="#6A6A62"/><ellipse cx="16" cy="15" rx="5.5" ry="7.4" fill="#D3A68E"/><path d="M10.5,13 C10.5,15 11,17 11.5,18 L10.5,18 C10,16 10,14 10.5,13Z" fill="#6A4A36"/><path d="M8,10.5 C8,4 12,2 17,2 C21.5,2 24.5,4.5 24,10 C20,8.5 13,8.5 8,10.5Z" fill="#D9BFA8"/><path d="M5,11.5 C8,9.5 14,9 18,10 L17,11.5 C13,11 9,11.5 5,11.5Z" fill="#C8A890"/></g></svg>
<div class="t" style="left:169.12px;top:763.54px;font-size:13.419px;font-weight:400;color:#2D3A55;-webkit-text-stroke:0.11px #2D3A55;transform:scaleX(1.0468);transform-origin:0 0;">Brendan Eglseder</div>
<div class="t" style="left:188.00px;width:300px;text-align:center;top:763.19px;font-size:14.122px;font-weight:400;color:#2D3A55;-webkit-text-stroke:0.11px #2D3A55;transform:scaleX(0.9884);transform-origin:50% 0;">16</div>
<div class="t" style="left:270.00px;width:300px;text-align:center;top:763.19px;font-size:14.122px;font-weight:400;color:#2D3A55;-webkit-text-stroke:0.11px #2D3A55;transform:scaleX(0.9884);transform-origin:50% 0;">16</div>
<div class="t" style="left:350.40px;width:300px;text-align:center;top:763.19px;font-size:14.122px;font-weight:400;color:#2D3A55;-webkit-text-stroke:0.11px #2D3A55;transform:scaleX(0.9884);transform-origin:50% 0;">11</div>
<div class="t" style="left:431.00px;width:300px;text-align:center;top:763.19px;font-size:14.122px;font-weight:400;color:#2D3A55;-webkit-text-stroke:0.11px #2D3A55;transform:scaleX(0.9884);transform-origin:50% 0;">7</div>
<div class="t" style="left:513.00px;width:300px;text-align:center;top:763.19px;font-size:14.122px;font-weight:400;color:#2D3A55;-webkit-text-stroke:0.11px #2D3A55;transform:scaleX(0.9884);transform-origin:50% 0;">12</div>
<svg style="position:absolute;left:736px;top:762px;" width="16" height="16" viewBox="0 0 16 16" fill="none"><g stroke="#E8141C" stroke-width="1.25" stroke-linecap="round" fill="none"><circle cx="8" cy="8" r="7"/><path d="M5.3,5.3 L10.7,10.7 M10.7,5.3 L5.3,10.7"/></g></svg>
<svg style="position:absolute;left:817px;top:762px;" width="16" height="16" viewBox="0 0 16 16" fill="none"><g stroke="#E8141C" stroke-width="1.25" stroke-linecap="round" fill="none"><circle cx="8" cy="8" r="7"/><path d="M5.3,5.3 L10.7,10.7 M10.7,5.3 L5.3,10.7"/></g></svg>
<div class="t" style="left:751.60px;width:300px;text-align:center;top:763.19px;font-size:14.122px;font-weight:400;color:#2D3A55;-webkit-text-stroke:0.11px #2D3A55;transform:scaleX(0.9884);transform-origin:50% 0;">78</div>
<div style="position:absolute;left:955.5px;top:757.5px;width:58px;height:25px;border-radius:12.5px;background:#E4F3E4;"></div>
<div class="t" style="left:834.50px;width:300px;text-align:center;top:765.14px;font-size:12.123px;font-weight:400;color:#138A1F;-webkit-text-stroke:0.36px #138A1F;transform:scaleX(1.1851);transform-origin:50% 0;">13.00</div>
<svg style="position:absolute;left:1042px;top:761px;" width="8" height="18" viewBox="0 0 8 18" fill="none"><g fill="#42506A"><circle cx="4" cy="3.2" r="2.05"/><circle cx="4" cy="9.2" r="2.05"/><circle cx="4" cy="15.2" r="2.05"/></g></svg>
<div style="position:absolute;left:112px;top:861px;width:966px;height:1px;background:#DCDFE5;"></div>
<svg style="position:absolute;left:128px;top:815px;" width="32" height="32" viewBox="0 0 32 32" fill="none"><defs><clipPath id="av7"><circle cx="16" cy="16" r="16"/></clipPath></defs><g clip-path="url(#av7)"><rect width="32" height="32" fill="#B6C4C4"/><rect x="0" y="17" width="32" height="3" fill="#5C6650"/><rect x="0" y="20" width="32" height="12" fill="#A89C8C"/><path d="M12,34 C13,27 17,24 22,24 C27,24 31,27 32,34Z" fill="#1C2820"/><ellipse cx="17.5" cy="14.5" rx="5.3" ry="7.8" fill="#D6AE9C"/><path d="M14,8 C15,4 18,3 21,3.5 C24,4.5 25,8 24,12 C23,9.5 18,8.5 14,8Z" fill="#4A3426"/><path d="M12,17 C12.5,23.5 19,25 22,20 C20,23 14,22 12,17Z" fill="#5A4030"/></g></svg>
<div class="t" style="left:169.12px;top:824.54px;font-size:13.419px;font-weight:400;color:#2D3A55;-webkit-text-stroke:0.11px #2D3A55;transform:scaleX(1.0468);transform-origin:0 0;">Ryan Strasil</div>
<svg style="position:absolute;left:330px;top:823px;" width="16" height="16" viewBox="0 0 16 16" fill="none"><g stroke="#E8141C" stroke-width="1.25" stroke-linecap="round" fill="none"><circle cx="8" cy="8" r="7"/><path d="M5.3,5.3 L10.7,10.7 M10.7,5.3 L5.3,10.7"/></g></svg>
<svg style="position:absolute;left:412px;top:823px;" width="16" height="16" viewBox="0 0 16 16" fill="none"><g stroke="#E8141C" stroke-width="1.25" stroke-linecap="round" fill="none"><circle cx="8" cy="8" r="7"/><path d="M5.3,5.3 L10.7,10.7 M10.7,5.3 L5.3,10.7"/></g></svg>
<div class="t" style="left:350.40px;width:300px;text-align:center;top:824.19px;font-size:14.122px;font-weight:400;color:#2D3A55;-webkit-text-stroke:0.11px #2D3A55;transform:scaleX(0.9884);transform-origin:50% 0;">14</div>
<div class="t" style="left:431.00px;width:300px;text-align:center;top:824.19px;font-size:14.122px;font-weight:400;color:#2D3A55;-webkit-text-stroke:0.11px #2D3A55;transform:scaleX(0.9884);transform-origin:50% 0;">15</div>
<div class="t" style="left:513.00px;width:300px;text-align:center;top:824.19px;font-size:14.122px;font-weight:400;color:#2D3A55;-webkit-text-stroke:0.11px #2D3A55;transform:scaleX(0.9884);transform-origin:50% 0;">14</div>
<div class="t" style="left:594.00px;width:300px;text-align:center;top:824.19px;font-size:14.122px;font-weight:400;color:#2D3A55;-webkit-text-stroke:0.11px #2D3A55;transform:scaleX(0.9884);transform-origin:50% 0;">13</div>
<div class="t" style="left:675.00px;width:300px;text-align:center;top:824.19px;font-size:14.122px;font-weight:400;color:#2D3A55;-webkit-text-stroke:0.11px #2D3A55;transform:scaleX(0.9884);transform-origin:50% 0;">13</div>
<div class="t" style="left:751.60px;width:300px;text-align:center;top:824.19px;font-size:14.122px;font-weight:400;color:#2D3A55;-webkit-text-stroke:0.11px #2D3A55;transform:scaleX(0.9884);transform-origin:50% 0;">49</div>
<div style="position:absolute;left:955.5px;top:818.5px;width:58px;height:25px;border-radius:12.5px;background:#E4F3E4;"></div>
<div class="t" style="left:834.50px;width:300px;text-align:center;top:826.14px;font-size:12.123px;font-weight:400;color:#138A1F;-webkit-text-stroke:0.36px #138A1F;transform:scaleX(1.1851);transform-origin:50% 0;">12.25</div>
<svg style="position:absolute;left:1042px;top:822px;" width="8" height="18" viewBox="0 0 8 18" fill="none"><g fill="#42506A"><circle cx="4" cy="3.2" r="2.05"/><circle cx="4" cy="9.2" r="2.05"/><circle cx="4" cy="15.2" r="2.05"/></g></svg>
<div style="position:absolute;left:112px;top:922px;width:966px;height:1px;background:#DCDFE5;"></div>
<svg style="position:absolute;left:128px;top:876px;" width="32" height="32" viewBox="0 0 32 32" fill="none"><defs><clipPath id="av8"><circle cx="16" cy="16" r="16"/></clipPath></defs><g clip-path="url(#av8)"><rect width="32" height="32" fill="#8C8E82"/><path d="M0,34 C1,27 6,24 12,24 L20,25 C25,26 28,28 30,34Z" fill="#8A8A88"/><path d="M4,14 C5,20 8,24 12,25 L12,16Z" fill="#9A6A50"/><ellipse cx="16.5" cy="14.5" rx="6" ry="7.8" fill="#A8785A"/><path d="M9,16 C10,24 17,27 20,24 C18,23 14,22 12,15Z" fill="#24140E"/><path d="M7,8.5 C8,3 13,1 17,1 C21,1 25,3 26,9 C20,8 13,8 7,8.5Z" fill="#120C0C"/></g></svg>
<div class="t" style="left:169.12px;top:885.54px;font-size:13.419px;font-weight:400;color:#2D3A55;-webkit-text-stroke:0.11px #2D3A55;transform:scaleX(1.0468);transform-origin:0 0;">Jake Hoppe</div>
<div class="t" style="left:188.00px;width:300px;text-align:center;top:885.19px;font-size:14.122px;font-weight:400;color:#2D3A55;-webkit-text-stroke:0.11px #2D3A55;transform:scaleX(0.9884);transform-origin:50% 0;">12</div>
<div class="t" style="left:270.00px;width:300px;text-align:center;top:885.19px;font-size:14.122px;font-weight:400;color:#2D3A55;-webkit-text-stroke:0.11px #2D3A55;transform:scaleX(0.9884);transform-origin:50% 0;">16</div>
<div class="t" style="left:350.40px;width:300px;text-align:center;top:885.19px;font-size:14.122px;font-weight:400;color:#2D3A55;-webkit-text-stroke:0.11px #2D3A55;transform:scaleX(0.9884);transform-origin:50% 0;">11</div>
<div class="t" style="left:431.00px;width:300px;text-align:center;top:885.19px;font-size:14.122px;font-weight:400;color:#2D3A55;-webkit-text-stroke:0.11px #2D3A55;transform:scaleX(0.9884);transform-origin:50% 0;">15</div>
<div class="t" style="left:513.00px;width:300px;text-align:center;top:885.19px;font-size:14.122px;font-weight:400;color:#2D3A55;-webkit-text-stroke:0.11px #2D3A55;transform:scaleX(0.9884);transform-origin:50% 0;">12</div>
<svg style="position:absolute;left:736px;top:884px;" width="16" height="16" viewBox="0 0 16 16" fill="none"><g stroke="#E8141C" stroke-width="1.25" stroke-linecap="round" fill="none"><circle cx="8" cy="8" r="7"/><path d="M5.3,5.3 L10.7,10.7 M10.7,5.3 L5.3,10.7"/></g></svg>
<svg style="position:absolute;left:817px;top:884px;" width="16" height="16" viewBox="0 0 16 16" fill="none"><g stroke="#E8141C" stroke-width="1.25" stroke-linecap="round" fill="none"><circle cx="8" cy="8" r="7"/><path d="M5.3,5.3 L10.7,10.7 M10.7,5.3 L5.3,10.7"/></g></svg>
<div class="t" style="left:751.60px;width:300px;text-align:center;top:885.19px;font-size:14.122px;font-weight:400;color:#2D3A55;-webkit-text-stroke:0.11px #2D3A55;transform:scaleX(0.9884);transform-origin:50% 0;">66</div>
<div style="position:absolute;left:955.5px;top:879.5px;width:58px;height:25px;border-radius:12.5px;background:#E4F3E4;"></div>
<div class="t" style="left:834.50px;width:300px;text-align:center;top:887.14px;font-size:12.123px;font-weight:400;color:#138A1F;-webkit-text-stroke:0.36px #138A1F;transform:scaleX(1.1851);transform-origin:50% 0;">13.20</div>
<svg style="position:absolute;left:1042px;top:883px;" width="8" height="18" viewBox="0 0 8 18" fill="none"><g fill="#42506A"><circle cx="4" cy="3.2" r="2.05"/><circle cx="4" cy="9.2" r="2.05"/><circle cx="4" cy="15.2" r="2.05"/></g></svg>
<div style="position:absolute;left:112px;top:983px;width:966px;height:1px;background:#DCDFE5;"></div>
<svg style="position:absolute;left:128px;top:937px;" width="32" height="32" viewBox="0 0 32 32" fill="none"><defs><clipPath id="av9"><circle cx="16" cy="16" r="16"/></clipPath></defs><g clip-path="url(#av9)"><rect width="32" height="32" fill="#EEEDEA"/><path d="M0,22 C3,24 6,24 10,23 L14,24 C20,23 26,24 32,27 L32,32 L0,32Z" fill="#82A8CE"/><path d="M0,17 L9,14 L11,18 L3,23 L0,22Z" fill="#B88A66"/><ellipse cx="17" cy="14.5" rx="5.3" ry="7.4" fill="#C08A62"/><path d="M12.5,17 C13,24.5 21,25.5 22,18 C20,22 15,22 12.5,17Z" fill="#1E140E"/><path d="M11,13 C10,5 13,1.5 17,1.5 C21,1.5 24,4 23,12 C22,8 20,7 17,7 C14,7 12,9 11,13Z" fill="#16100C"/></g></svg>
<div class="t" style="left:169.12px;top:946.54px;font-size:13.419px;font-weight:400;color:#2D3A55;-webkit-text-stroke:0.11px #2D3A55;transform:scaleX(1.0468);transform-origin:0 0;">Gabe Pariacote</div>
<div class="t" style="left:188.00px;width:300px;text-align:center;top:946.19px;font-size:14.122px;font-weight:400;color:#2D3A55;-webkit-text-stroke:0.11px #2D3A55;transform:scaleX(0.9884);transform-origin:50% 0;">16</div>
<div class="t" style="left:270.00px;width:300px;text-align:center;top:946.19px;font-size:14.122px;font-weight:400;color:#2D3A55;-webkit-text-stroke:0.11px #2D3A55;transform:scaleX(0.9884);transform-origin:50% 0;">16</div>
<div class="t" style="left:350.40px;width:300px;text-align:center;top:946.19px;font-size:14.122px;font-weight:400;color:#2D3A55;-webkit-text-stroke:0.11px #2D3A55;transform:scaleX(0.9884);transform-origin:50% 0;">11</div>
<div class="t" style="left:431.00px;width:300px;text-align:center;top:946.19px;font-size:14.122px;font-weight:400;color:#2D3A55;-webkit-text-stroke:0.11px #2D3A55;transform:scaleX(0.9884);transform-origin:50% 0;">7</div>
<div class="t" style="left:513.00px;width:300px;text-align:center;top:946.19px;font-size:14.122px;font-weight:400;color:#2D3A55;-webkit-text-stroke:0.11px #2D3A55;transform:scaleX(0.9884);transform-origin:50% 0;">12</div>
<svg style="position:absolute;left:736px;top:945px;" width="16" height="16" viewBox="0 0 16 16" fill="none"><g stroke="#E8141C" stroke-width="1.25" stroke-linecap="round" fill="none"><circle cx="8" cy="8" r="7"/><path d="M5.3,5.3 L10.7,10.7 M10.7,5.3 L5.3,10.7"/></g></svg>
<svg style="position:absolute;left:817px;top:945px;" width="16" height="16" viewBox="0 0 16 16" fill="none"><g stroke="#E8141C" stroke-width="1.25" stroke-linecap="round" fill="none"><circle cx="8" cy="8" r="7"/><path d="M5.3,5.3 L10.7,10.7 M10.7,5.3 L5.3,10.7"/></g></svg>
<div class="t" style="left:751.60px;width:300px;text-align:center;top:946.19px;font-size:14.122px;font-weight:400;color:#2D3A55;-webkit-text-stroke:0.11px #2D3A55;transform:scaleX(0.9884);transform-origin:50% 0;">78</div>
<div style="position:absolute;left:955.5px;top:940.5px;width:58px;height:25px;border-radius:12.5px;background:#E4F3E4;"></div>
<div class="t" style="left:834.50px;width:300px;text-align:center;top:948.14px;font-size:12.123px;font-weight:400;color:#138A1F;-webkit-text-stroke:0.36px #138A1F;transform:scaleX(1.1851);transform-origin:50% 0;">13.00</div>
<svg style="position:absolute;left:1042px;top:944px;" width="8" height="18" viewBox="0 0 8 18" fill="none"><g fill="#42506A"><circle cx="4" cy="3.2" r="2.05"/><circle cx="4" cy="9.2" r="2.05"/><circle cx="4" cy="15.2" r="2.05"/></g></svg>
<div style="position:absolute;left:112px;top:1044px;width:966px;height:1px;background:#DCDFE5;"></div>
<svg style="position:absolute;left:128px;top:998px;" width="32" height="32" viewBox="0 0 32 32" fill="none"><defs><clipPath id="av10"><circle cx="16" cy="16" r="16"/></clipPath></defs><g clip-path="url(#av10)"><rect width="32" height="32" fill="#9AA6B0"/><rect x="0" y="0" width="9" height="20" fill="#5E7482"/><rect x="21" y="0" width="11" height="22" fill="#B0908A"/><rect x="0" y="20" width="32" height="4" fill="#C8CCD0"/><path d="M1,34 C3,26 9,22 16,22 C23,22 29,26 31,34Z" fill="#1E3C6C"/><path d="M13,22 L16,32 L20,22Z" fill="#ECF0F4"/><ellipse cx="16" cy="13.5" rx="5.5" ry="7.4" fill="#D7AE96"/><path d="M10.2,10.5 C10,5 13,3.5 16,3.5 C20,3.5 22.5,5.5 22,10.5 C20,7.8 12.5,7.8 10.2,10.5Z" fill="#B4946E"/><path d="M12,18 C13,22 19,22 20,18 C19,20.5 13,20.5 12,18Z" fill="#8A6A50"/></g></svg>
<div class="t" style="left:169.12px;top:1007.54px;font-size:13.419px;font-weight:400;color:#2D3A55;-webkit-text-stroke:0.11px #2D3A55;transform:scaleX(1.0468);transform-origin:0 0;">Ron Betts</div>
<div class="t" style="left:188.00px;width:300px;text-align:center;top:1007.19px;font-size:14.122px;font-weight:400;color:#2D3A55;-webkit-text-stroke:0.11px #2D3A55;transform:scaleX(0.9884);transform-origin:50% 0;">16</div>
<svg style="position:absolute;left:412px;top:1006px;" width="16" height="16" viewBox="0 0 16 16" fill="none"><g stroke="#E8141C" stroke-width="1.25" stroke-linecap="round" fill="none"><circle cx="8" cy="8" r="7"/><path d="M5.3,5.3 L10.7,10.7 M10.7,5.3 L5.3,10.7"/></g></svg>
<svg style="position:absolute;left:492.4px;top:1006px;" width="16" height="16" viewBox="0 0 16 16" fill="none"><g stroke="#E8141C" stroke-width="1.25" stroke-linecap="round" fill="none"><circle cx="8" cy="8" r="7"/><path d="M5.3,5.3 L10.7,10.7 M10.7,5.3 L5.3,10.7"/></g></svg>
<div class="t" style="left:431.00px;width:300px;text-align:center;top:1007.19px;font-size:14.122px;font-weight:400;color:#2D3A55;-webkit-text-stroke:0.11px #2D3A55;transform:scaleX(0.9884);transform-origin:50% 0;">7</div>
<div class="t" style="left:513.00px;width:300px;text-align:center;top:1007.19px;font-size:14.122px;font-weight:400;color:#2D3A55;-webkit-text-stroke:0.11px #2D3A55;transform:scaleX(0.9884);transform-origin:50% 0;">12</div>
<div class="t" style="left:594.00px;width:300px;text-align:center;top:1007.19px;font-size:14.122px;font-weight:400;color:#2D3A55;-webkit-text-stroke:0.11px #2D3A55;transform:scaleX(0.9884);transform-origin:50% 0;">12</div>
<div class="t" style="left:675.00px;width:300px;text-align:center;top:1007.19px;font-size:14.122px;font-weight:400;color:#2D3A55;-webkit-text-stroke:0.11px #2D3A55;transform:scaleX(0.9884);transform-origin:50% 0;">12</div>
<div class="t" style="left:751.60px;width:300px;text-align:center;top:1007.19px;font-size:14.122px;font-weight:400;color:#2D3A55;-webkit-text-stroke:0.11px #2D3A55;transform:scaleX(0.9884);transform-origin:50% 0;">78</div>
<div style="position:absolute;left:955.5px;top:1001.5px;width:58px;height:25px;border-radius:12.5px;background:#E4F3E4;"></div>
<div class="t" style="left:834.50px;width:300px;text-align:center;top:1009.14px;font-size:12.123px;font-weight:400;color:#138A1F;-webkit-text-stroke:0.36px #138A1F;transform:scaleX(1.1851);transform-origin:50% 0;">13.00</div>
<svg style="position:absolute;left:1042px;top:1005px;" width="8" height="18" viewBox="0 0 8 18" fill="none"><g fill="#42506A"><circle cx="4" cy="3.2" r="2.05"/><circle cx="4" cy="9.2" r="2.05"/><circle cx="4" cy="15.2" r="2.05"/></g></svg>
<div style="position:absolute;left:852px;top:545px;width:198px;height:46px;border-radius:8px;background:#fff;box-shadow:0 2px 8px rgba(30,40,70,0.12),0 0 1px rgba(30,40,70,0.15);"></div>
<div class="t" style="left:866.20px;top:562.55px;font-size:13.645px;font-weight:400;color:#2D3A55;-webkit-text-stroke:0.41px #2D3A55;transform:scaleX(1.2181);transform-origin:0 0;">Edit</div>
<div class="t" style="left:907.60px;top:1074.65px;font-size:12.874px;font-weight:400;color:#8C96A8;-webkit-text-stroke:0.23px #8C96A8;transform:scaleX(1.0628);transform-origin:0 0;">Prev</div>
<div style="position:absolute;left:946px;top:1064px;width:32px;height:32px;border-radius:7px;background:#2558E5;"></div>
<div class="t" style="left:812.00px;width:300px;text-align:center;top:1073.82px;font-size:13.2px;font-weight:400;color:#fff;-webkit-text-stroke:0.24px #fff;">1</div>
<div style="position:absolute;left:983.3px;top:1064px;width:32px;height:32px;box-sizing:border-box;border-radius:7px;background:#fff;border:1px solid #E0E3EA;"></div>
<div class="t" style="left:849.30px;width:300px;text-align:center;top:1073.82px;font-size:13.2px;font-weight:400;color:#2D3A55;-webkit-text-stroke:0.24px #2D3A55;">2</div>
<div class="t" style="left:1023.88px;top:1074.65px;font-size:12.874px;font-weight:400;color:#2D3A55;-webkit-text-stroke:0.23px #2D3A55;transform:scaleX(1.1422);transform-origin:0 0;">Next</div>
<div style="position:absolute;left:1102px;top:158px;width:314px;height:322px;border-radius:8px;background:#fff;box-shadow:0 1px 3px rgba(40,50,90,0.06);"></div>
<div style="position:absolute;left:1118px;top:174px;width:24px;height:24px;border-radius:4px;background:#A250E2;"></div>
<svg style="position:absolute;left:1122.1425px;top:176.401px;" width="16.25" height="18.85" viewBox="0 0 16.25 18.85" fill="none"><g stroke="#fff" fill="none" stroke-linecap="round" transform="scale(0.65)"><ellipse cx="14.7" cy="9.9" rx="7.3" ry="5.7" transform="rotate(-45 14.7 9.9)" stroke-width="2.6"/><path d="M6.9,17.4 L1.55,23.05" stroke-width="2.8"/><circle cx="19.3" cy="23.4" r="3.45" stroke-width="2.6"/><path d="M6.1,12.9 C6.5,15.3 6.3,16.9 4.9,18.5 L7.4,19.6 C9.2,17.9 10.8,17.4 12.9,17.3 Z" fill="#fff" stroke="none"/></g></svg>
<div class="t" style="left:1153.64px;top:178.94px;font-size:14.131px;font-weight:400;color:#2D3A55;-webkit-text-stroke:0.42px #2D3A55;transform:scaleX(1.1298);transform-origin:0 0;">Top Players</div>
<div class="t" style="left:1100.06px;width:300px;text-align:right;top:180.16px;font-size:12.863px;font-weight:400;color:#2563EB;-webkit-text-stroke:0.39px #2563EB;transform:scaleX(1.1232);transform-origin:100% 0;">View All</div>
<div style="position:absolute;left:1102px;top:214px;width:314px;height:1px;background:#E2E5EC;"></div>
<div style="position:absolute;left:1118px;top:278px;width:282px;height:1px;background:#E2E5EC;"></div>
<svg style="position:absolute;left:1118px;top:230px;" width="32" height="32" viewBox="0 0 32 32" fill="none"><defs><clipPath id="av11"><circle cx="16" cy="16" r="16"/></clipPath></defs><g clip-path="url(#av11)"><rect width="32" height="32" fill="#101A22"/><path d="M0,12 L32,8 L32,22 L0,27Z" fill="#1A7EB6"/><rect x="0" y="26" width="32" height="6" fill="#0F4E74"/><path d="M10,34 C11,25 15,21 20,21 C27,21 31,25 32,34Z" fill="#BCD4E6"/><ellipse cx="16.5" cy="13.5" rx="5.4" ry="7.3" fill="#4E3426"/><path d="M10.5,10.5 H22.5 V13 C20,14 13,14 10.5,13Z" fill="#0C0A0A"/><path d="M11,8 C12,5 15,4.5 17,4.5 C20,4.5 22,6 22,8.5 C19,7.2 14,7.2 11,8Z" fill="#140E0C"/><path d="M12,18 C13,22 20,22 21,18 C19,21 14,21 12,18Z" fill="#1E140E"/></g></svg>
<div class="t" style="left:1159.92px;top:231.22px;font-size:12.185px;font-weight:400;color:#2D3A55;-webkit-text-stroke:0.37px #2D3A55;transform:scaleX(1.1668);transform-origin:0 0;">Sinner</div>
<div class="t" style="left:1159.32px;top:250.99px;font-size:11.649px;font-weight:400;color:#2D3A55;transform:scaleX(1.2493);transform-origin:0 0;">Points <span style="-webkit-text-stroke:0.5px #2D3A55">980</span></div>
<div style="position:absolute;left:1293.0px;top:233.5px;width:58px;height:25px;border-radius:12.5px;background:#E4F3E4;"></div>
<div class="t" style="left:1172.00px;width:300px;text-align:center;top:241.14px;font-size:12.123px;font-weight:400;color:#138A1F;-webkit-text-stroke:0.36px #138A1F;transform:scaleX(1.1851);transform-origin:50% 0;">14.33</div>
<svg style="position:absolute;left:1382.5px;top:239px;" width="15" height="15" viewBox="0 0 15 15" fill="none"><path d="M7.5,1.2 L9.4,5.3 L13.9,5.7 L10.5,8.7 L11.5,13.2 L7.5,10.9 L3.5,13.2 L4.5,8.7 L1.1,5.7 L5.6,5.3 Z" fill="none" stroke="#4E5A70" stroke-width="1.2" stroke-linejoin="round"/></svg>
<div style="position:absolute;left:1118px;top:342px;width:282px;height:1px;background:#E2E5EC;"></div>
<svg style="position:absolute;left:1118px;top:294px;" width="32" height="32" viewBox="0 0 32 32" fill="none"><defs><clipPath id="av12"><circle cx="16" cy="16" r="16"/></clipPath></defs><g clip-path="url(#av12)"><rect width="32" height="32" fill="#1C0E1A"/><path d="M3,34 C5,26 10,23 16,23 C22,23 27,26 29,34Z" fill="#1F4A26"/><circle cx="11" cy="28" r="2" fill="#D8D0C0"/><circle cx="21" cy="27" r="1.6" fill="#C8C0B0"/><circle cx="17" cy="31" r="1.5" fill="#E0D8C8"/><rect x="13.5" y="19" width="5" height="6" fill="#B88868"/><ellipse cx="16" cy="14.5" rx="5.5" ry="7.5" fill="#C4957A"/><path d="M9.2,14 C8,6 12,2.5 16,2.5 C20.5,2.5 24,6 22.8,14 C22,9 20,8 16,8.5 C12,8 10,9 9.2,14Z" fill="#0C0808"/></g></svg>
<div class="t" style="left:1159.92px;top:295.22px;font-size:12.185px;font-weight:400;color:#2D3A55;-webkit-text-stroke:0.37px #2D3A55;transform:scaleX(1.1668);transform-origin:0 0;">Hoppe</div>
<div class="t" style="left:1159.32px;top:314.99px;font-size:11.649px;font-weight:400;color:#2D3A55;transform:scaleX(1.2493);transform-origin:0 0;">Points <span style="-webkit-text-stroke:0.5px #2D3A55">1200</span></div>
<div style="position:absolute;left:1293.0px;top:297.5px;width:58px;height:25px;border-radius:12.5px;background:#E4F3E4;"></div>
<div class="t" style="left:1172.00px;width:300px;text-align:center;top:305.14px;font-size:12.123px;font-weight:400;color:#138A1F;-webkit-text-stroke:0.36px #138A1F;transform:scaleX(1.1851);transform-origin:50% 0;">12.20</div>
<svg style="position:absolute;left:1382.5px;top:303px;" width="15" height="15" viewBox="0 0 15 15" fill="none"><path d="M7.5,1.2 L9.4,5.3 L13.9,5.7 L10.5,8.7 L11.5,13.2 L7.5,10.9 L3.5,13.2 L4.5,8.7 L1.1,5.7 L5.6,5.3 Z" fill="#F7862A" stroke="#F7862A" stroke-width="1" stroke-linejoin="round"/></svg>
<div style="position:absolute;left:1118px;top:406px;width:282px;height:1px;background:#E2E5EC;"></div>
<svg style="position:absolute;left:1118px;top:358px;" width="32" height="32" viewBox="0 0 32 32" fill="none"><defs><clipPath id="av13"><circle cx="16" cy="16" r="16"/></clipPath></defs><g clip-path="url(#av13)"><rect width="32" height="32" fill="#A9B5BE"/><rect x="0" y="19" width="32" height="1" fill="#8A9298"/><path d="M2,34 C4,26 9,23 16,23 C23,23 28,26 30,34Z" fill="#2C2E2E"/><path d="M12,23 L16,30 L20,23Z" fill="#6A6A62"/><ellipse cx="16" cy="15" rx="5.5" ry="7.4" fill="#D3A68E"/><path d="M10.5,13 C10.5,15 11,17 11.5,18 L10.5,18 C10,16 10,14 10.5,13Z" fill="#6A4A36"/><path d="M8,10.5 C8,4 12,2 17,2 C21.5,2 24.5,4.5 24,10 C20,8.5 13,8.5 8,10.5Z" fill="#D9BFA8"/><path d="M5,11.5 C8,9.5 14,9 18,10 L17,11.5 C13,11 9,11.5 5,11.5Z" fill="#C8A890"/></g></svg>
<div class="t" style="left:1159.92px;top:359.22px;font-size:12.185px;font-weight:400;color:#2D3A55;-webkit-text-stroke:0.37px #2D3A55;transform:scaleX(1.1668);transform-origin:0 0;">Brendan</div>
<div class="t" style="left:1159.32px;top:378.99px;font-size:11.649px;font-weight:400;color:#2D3A55;transform:scaleX(1.2493);transform-origin:0 0;">Points <span style="-webkit-text-stroke:0.5px #2D3A55">1000</span></div>
<div style="position:absolute;left:1293.0px;top:361.5px;width:58px;height:25px;border-radius:12.5px;background:#E4F3E4;"></div>
<div class="t" style="left:1172.00px;width:300px;text-align:center;top:369.14px;font-size:12.123px;font-weight:400;color:#138A1F;-webkit-text-stroke:0.36px #138A1F;transform:scaleX(1.1851);transform-origin:50% 0;">10.12</div>
<svg style="position:absolute;left:1382.5px;top:367px;" width="15" height="15" viewBox="0 0 15 15" fill="none"><path d="M7.5,1.2 L9.4,5.3 L13.9,5.7 L10.5,8.7 L11.5,13.2 L7.5,10.9 L3.5,13.2 L4.5,8.7 L1.1,5.7 L5.6,5.3 Z" fill="none" stroke="#4E5A70" stroke-width="1.2" stroke-linejoin="round"/></svg>
<svg style="position:absolute;left:1118px;top:422px;" width="32" height="32" viewBox="0 0 32 32" fill="none"><defs><clipPath id="av14"><circle cx="16" cy="16" r="16"/></clipPath></defs><g clip-path="url(#av14)"><rect width="32" height="32" fill="#9AA6B0"/><rect x="0" y="0" width="9" height="20" fill="#5E7482"/><rect x="21" y="0" width="11" height="22" fill="#B0908A"/><rect x="0" y="20" width="32" height="4" fill="#C8CCD0"/><path d="M1,34 C3,26 9,22 16,22 C23,22 29,26 31,34Z" fill="#1E3C6C"/><path d="M13,22 L16,32 L20,22Z" fill="#ECF0F4"/><ellipse cx="16" cy="13.5" rx="5.5" ry="7.4" fill="#D7AE96"/><path d="M10.2,10.5 C10,5 13,3.5 16,3.5 C20,3.5 22.5,5.5 22,10.5 C20,7.8 12.5,7.8 10.2,10.5Z" fill="#B4946E"/><path d="M12,18 C13,22 19,22 20,18 C19,20.5 13,20.5 12,18Z" fill="#8A6A50"/></g></svg>
<div class="t" style="left:1159.92px;top:423.22px;font-size:12.185px;font-weight:400;color:#2D3A55;-webkit-text-stroke:0.37px #2D3A55;transform:scaleX(1.1668);transform-origin:0 0;">Betts</div>
<div class="t" style="left:1159.32px;top:442.99px;font-size:11.649px;font-weight:400;color:#2D3A55;transform:scaleX(1.2493);transform-origin:0 0;">Points <span style="-webkit-text-stroke:0.5px #2D3A55">980</span></div>
<div style="position:absolute;left:1293.0px;top:425.5px;width:58px;height:25px;border-radius:12.5px;background:#E4F3E4;"></div>
<div class="t" style="left:1172.00px;width:300px;text-align:center;top:433.14px;font-size:12.123px;font-weight:400;color:#138A1F;-webkit-text-stroke:0.36px #138A1F;transform:scaleX(1.1851);transform-origin:50% 0;">12.00</div>
<svg style="position:absolute;left:1382.5px;top:431px;" width="15" height="15" viewBox="0 0 15 15" fill="none"><path d="M7.5,1.2 L9.4,5.3 L13.9,5.7 L10.5,8.7 L11.5,13.2 L7.5,10.9 L3.5,13.2 L4.5,8.7 L1.1,5.7 L5.6,5.3 Z" fill="none" stroke="#4E5A70" stroke-width="1.2" stroke-linejoin="round"/></svg>
<div style="position:absolute;left:1102px;top:504px;width:314px;height:326px;border-radius:8px;background:#fff;box-shadow:0 1px 3px rgba(40,50,90,0.06);overflow:hidden;"></div>
<div style="position:absolute;left:1118px;top:520px;width:24px;height:24px;border-radius:4px;background:#0DB4D9;"></div>
<svg style="position:absolute;left:1123px;top:525px;" width="14" height="14" viewBox="0 0 14 14" fill="none"><g stroke="#fff" stroke-width="1.6" fill="none"><rect x="1.5" y="2.5" width="11" height="10" rx="1.2"/><path d="M1.5,5.5 H12.5"/><path d="M4.5,1 V3 M9.5,1 V3" stroke-linecap="round"/></g></svg>
<div class="t" style="left:1152.28px;top:523.93px;font-size:15.434px;font-weight:400;color:#2D3A55;-webkit-text-stroke:0.46px #2D3A55;transform:scaleX(1.0724);transform-origin:0 0;">Upcoming Tournaments</div>
<div style="position:absolute;left:1102px;top:560px;width:314px;height:1px;background:#E2E5EC;"></div>
<div style="position:absolute;left:1102px;top:642px;width:314px;height:1px;background:#E2E5EC;"></div>
<svg style="position:absolute;left:1120.1435px;top:574.9582px;" width="20.75" height="24.07" viewBox="0 0 20.75 24.07" fill="none"><g stroke="#3E4A62" fill="none" stroke-linecap="round" transform="scale(0.83)"><ellipse cx="14.7" cy="9.9" rx="7.3" ry="5.7" transform="rotate(-45 14.7 9.9)" stroke-width="2.0"/><path d="M6.9,17.4 L1.55,23.05" stroke-width="2.2"/><circle cx="19.3" cy="23.4" r="3.45" stroke-width="2.0"/><path d="M6.1,12.9 C6.5,15.3 6.3,16.9 4.9,18.5 L7.4,19.6 C9.2,17.9 10.8,17.4 12.9,17.3 Z" fill="#3E4A62" stroke="none"/></g></svg>
<div class="t" style="left:1153.00px;top:579.68px;font-size:16.176px;font-weight:400;color:#2D3A55;-webkit-text-stroke:0.13px #2D3A55;transform:scaleX(0.9747);transform-origin:0 0;">Tournament 1</div>
<svg style="position:absolute;left:1155.5px;top:608.1px;" width="14.1" height="15.2" viewBox="0 0 14.1 15.2" fill="none"><g stroke="#8E97A8" stroke-width="1.0" fill="none" stroke-linecap="round"><rect x="0.5" y="2.6" width="13.1" height="12.1" rx="1.4"/><path d="M0.5,6.2 H13.6"/><path d="M3.38,0.5 V3.2"/><path d="M10.72,0.5 V3.2"/></g><g fill="#8E97A8"><circle cx="3.45" cy="8.97" r=".7"/><circle cx="3.45" cy="12.2" r=".7"/><circle cx="7.05" cy="8.97" r=".7"/><circle cx="7.05" cy="12.2" r=".7"/><circle cx="10.65" cy="8.97" r=".7"/><circle cx="10.65" cy="12.2" r=".7"/></g></svg>
<div class="t" style="left:1177.32px;top:611.31px;font-size:12.807px;font-weight:400;color:#2D3A55;-webkit-text-stroke:0.38px #2D3A55;transform:scaleX(1.2009);transform-origin:0 0;">15/08/2024 - 22/09/2024</div>
<div style="position:absolute;left:1102px;top:643px;width:314px;height:82px;background:#F1F3F9;"></div>
<div style="position:absolute;left:1102px;top:724px;width:314px;height:1px;background:#E2E5EC;"></div>
<svg style="position:absolute;left:1120.1435px;top:656.9582px;" width="20.75" height="24.07" viewBox="0 0 20.75 24.07" fill="none"><g stroke="#3E4A62" fill="none" stroke-linecap="round" transform="scale(0.83)"><ellipse cx="14.7" cy="9.9" rx="7.3" ry="5.7" transform="rotate(-45 14.7 9.9)" stroke-width="2.0"/><path d="M6.9,17.4 L1.55,23.05" stroke-width="2.2"/><circle cx="19.3" cy="23.4" r="3.45" stroke-width="2.0"/><path d="M6.1,12.9 C6.5,15.3 6.3,16.9 4.9,18.5 L7.4,19.6 C9.2,17.9 10.8,17.4 12.9,17.3 Z" fill="#3E4A62" stroke="none"/></g></svg>
<div class="t" style="left:1153.00px;top:661.68px;font-size:16.176px;font-weight:400;color:#2D3A55;-webkit-text-stroke:0.13px #2D3A55;transform:scaleX(0.9747);transform-origin:0 0;">Tournament 2</div>
<svg style="position:absolute;left:1155.5px;top:690.1px;" width="14.1" height="15.2" viewBox="0 0 14.1 15.2" fill="none"><g stroke="#8E97A8" stroke-width="1.0" fill="none" stroke-linecap="round"><rect x="0.5" y="2.6" width="13.1" height="12.1" rx="1.4"/><path d="M0.5,6.2 H13.6"/><path d="M3.38,0.5 V3.2"/><path d="M10.72,0.5 V3.2"/></g><g fill="#8E97A8"><circle cx="3.45" cy="8.97" r=".7"/><circle cx="3.45" cy="12.2" r=".7"/><circle cx="7.05" cy="8.97" r=".7"/><circle cx="7.05" cy="12.2" r=".7"/><circle cx="10.65" cy="8.97" r=".7"/><circle cx="10.65" cy="12.2" r=".7"/></g></svg>
<div class="t" style="left:1175.76px;top:693.40px;font-size:12.699px;font-weight:400;color:#2D3A55;-webkit-text-stroke:0.38px #2D3A55;transform:scaleX(1.1640);transform-origin:0 0;">13/10/2024 - 14/11/2024</div>
<svg style="position:absolute;left:1120.1435px;top:738.9582px;" width="20.75" height="24.07" viewBox="0 0 20.75 24.07" fill="none"><g stroke="#3E4A62" fill="none" stroke-linecap="round" transform="scale(0.83)"><ellipse cx="14.7" cy="9.9" rx="7.3" ry="5.7" transform="rotate(-45 14.7 9.9)" stroke-width="2.0"/><path d="M6.9,17.4 L1.55,23.05" stroke-width="2.2"/><circle cx="19.3" cy="23.4" r="3.45" stroke-width="2.0"/><path d="M6.1,12.9 C6.5,15.3 6.3,16.9 4.9,18.5 L7.4,19.6 C9.2,17.9 10.8,17.4 12.9,17.3 Z" fill="#3E4A62" stroke="none"/></g></svg>
<div class="t" style="left:1153.00px;top:743.68px;font-size:16.176px;font-weight:400;color:#2D3A55;-webkit-text-stroke:0.13px #2D3A55;transform:scaleX(0.9747);transform-origin:0 0;">Tournament 3</div>
<svg style="position:absolute;left:1155.5px;top:772.1px;" width="14.1" height="15.2" viewBox="0 0 14.1 15.2" fill="none"><g stroke="#8E97A8" stroke-width="1.0" fill="none" stroke-linecap="round"><rect x="0.5" y="2.6" width="13.1" height="12.1" rx="1.4"/><path d="M0.5,6.2 H13.6"/><path d="M3.38,0.5 V3.2"/><path d="M10.72,0.5 V3.2"/></g><g fill="#8E97A8"><circle cx="3.45" cy="8.97" r=".7"/><circle cx="3.45" cy="12.2" r=".7"/><circle cx="7.05" cy="8.97" r=".7"/><circle cx="7.05" cy="12.2" r=".7"/><circle cx="10.65" cy="8.97" r=".7"/><circle cx="10.65" cy="12.2" r=".7"/></g></svg>
<div class="t" style="left:1175.76px;top:775.40px;font-size:12.699px;font-weight:400;color:#2D3A55;-webkit-text-stroke:0.38px #2D3A55;transform:scaleX(1.1640);transform-origin:0 0;">13/10/2024 - 14/11/2024</div>
<div style="position:absolute;left:1102px;top:854px;width:314px;height:180px;border-radius:7px;overflow:hidden;background:#1A0F26;">
<svg style="position:absolute;left:0;top:0" width="314" height="180" viewBox="0 0 314 180">
<defs>
<linearGradient id="bgL" x1="0" y1="0" x2="0.35" y2="1"><stop offset="0" stop-color="#1B0F25"/><stop offset="0.55" stop-color="#261334"/><stop offset="1" stop-color="#33143C"/></linearGradient>
<radialGradient id="bgR" cx="0.85" cy="0.35" r="0.6"><stop offset="0" stop-color="#141A48" stop-opacity="0.9"/><stop offset="1" stop-color="#141A48" stop-opacity="0"/></radialGradient>
<radialGradient id="smoke" cx="0.15" cy="0.9" r="0.5"><stop offset="0" stop-color="#5A1A58" stop-opacity="0.35"/><stop offset="1" stop-color="#5A1A5A" stop-opacity="0"/></radialGradient>
<linearGradient id="face" x1="0" y1="0" x2="1" y2="0"><stop offset="0" stop-color="#C08478"/><stop offset="0.5" stop-color="#9A6A72"/><stop offset="1" stop-color="#4A5CA8"/></linearGradient>
<linearGradient id="shirt" x1="0" y1="0" x2="1" y2="0"><stop offset="0" stop-color="#42205E"/><stop offset="0.2" stop-color="#28287E"/><stop offset="0.5" stop-color="#2A44C8"/><stop offset="0.75" stop-color="#1C2684"/><stop offset="1" stop-color="#131A5A"/></linearGradient>
<linearGradient id="hand" x1="0" y1="0" x2="1" y2="0"><stop offset="0" stop-color="#D08A80"/><stop offset="1" stop-color="#8A5A5C"/></linearGradient>
</defs>
<rect width="314" height="180" fill="url(#bgL)"/>
<rect width="314" height="180" fill="url(#bgR)"/>
<rect width="314" height="180" fill="url(#smoke)"/>
<path d="M166,180 L168,140 C170,128 180,118 196,113 L217,104 C230,100 248,97 261,98 C278,100 292,106 300,113 C308,120 313,127 314,130 L314,180 Z" fill="url(#shirt)"/>
<path d="M196,113 L206,110 L204,180 L194,180 Z" fill="#1A1E5A" opacity="0.55"/>
<path d="M244,100 L262,99 L284,180 L260,180 Z" fill="#1A1E5A" opacity="0.5"/>
<path d="M217,92 C222,104 254,104 260,95 L261,100 C252,110 224,110 216,104 Z" fill="#1C2258"/>
<path d="M218,80 L218,100 C228,108 250,108 259,98 L258,80 Z" fill="#2A2C5E"/>
<ellipse cx="211.8" cy="61.8" rx="2.8" ry="9.5" fill="#A87070"/>
<ellipse cx="264" cy="68" rx="4" ry="10" fill="#3A4E98"/>
<ellipse cx="237" cy="64" rx="24.5" ry="35" fill="url(#face)"/>
<path d="M213,70 C214,88 224,100 237,100 C250,100 259,90 261,70 C256,80 250,84 237,84 C224,84 217,80 213,70 Z" fill="#3A2A38"/>
<path d="M212,48 C210,28 222,15 241,15 C259,15 271,27 268,56 C265,42 258,34 240,33 C226,33 216,38 212,48 Z" fill="#1E1620"/>
<g transform="rotate(35 181 82.5)"><ellipse cx="181" cy="82.5" rx="38.5" ry="31" fill="#24284E" stroke="#121428" stroke-width="2.2"/></g>
<path d="M182,50.5 C166,50 150,60 145,84 C145,90 147,95 150,98" fill="none" stroke="#46E24C" stroke-width="3.2"/>
<path d="M150,92 L162,113 L177,114 C166,108 157,100 150,92 Z" fill="#3ED84A"/>
<path d="M146.6,107.6 L161,114 L137,151 L124,143 Z" fill="#E4DEEC"/>
<path d="M121,128 C126,124 133,126 138,131 L146,134 C150,150 152,165 151,180 L128,180 C122,168 119,150 121,128 Z" fill="url(#hand)"/>
</svg></div>
<div class="t" style="left:1122.42px;top:875.10px;font-size:24.743px;font-weight:700;color:#fff;transform:scaleX(0.9203);transform-origin:0 0;">LIVE RIGHT</div>
<div class="t" style="left:1122.42px;top:903.20px;font-size:24.743px;font-weight:700;color:#fff;transform:scaleX(0.9203);transform-origin:0 0;">NOW</div>
<div style="position:absolute;left:1125px;top:983px;width:103px;height:26px;border-radius:13px;background:#F0A30B;"></div>
<div class="t" style="left:1026.14px;width:300px;text-align:center;top:990.50px;font-size:12.516px;font-weight:700;color:#0D0D10;transform:scaleX(1.0637);transform-origin:50% 0;">Watch Now</div>
</div></body></html>
